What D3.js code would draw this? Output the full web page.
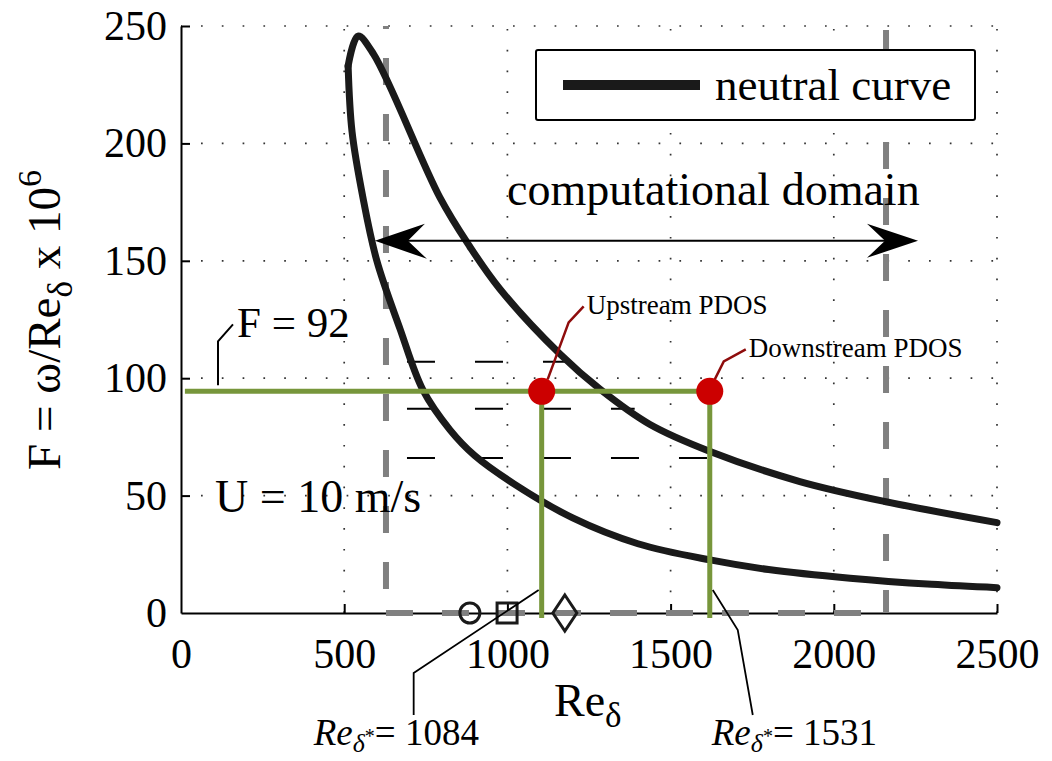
<!DOCTYPE html>
<html>
<head>
<meta charset="utf-8">
<script src="https://cdn.jsdelivr.net/npm/d3@7"></script>
<style>
body { margin: 0; background: #fff; }
svg text { font-family: "Liberation Serif", "Times New Roman", serif !important; fill: #000; }
</style>
</head>
<body>
<svg id="chart" width="1052" height="761"></svg>
<script>
//------------------------------------------------------------------------------
//Data
//------------------------------------------------------------------------------
var xTicks = [0, 500, 1000, 1500, 2000, 2500];
var yTicks = [0, 50, 100, 150, 200, 250];

// neutral curve, lower branch (Re, F)
var lowerRe = [512, 524, 558, 600, 671, 741, 824, 900, 1020, 1200, 1400, 1621, 1800, 2050, 2300, 2500];
var lowerF  = [233, 205, 176.5, 150, 121, 95, 78, 67, 55, 40.5, 29.5, 22.6, 18.5, 14.8, 12.2, 10.8];
// neutral curve, upper branch
var upperRe = [512, 542, 590, 793, 885, 977, 1161, 1284, 1437, 1621, 1896, 2160, 2500];
var upperF  = [233, 245.7, 238, 177, 156, 138, 110.3, 95.3, 80.3, 68.8, 56, 47.4, 38.5];

// computational domain limits
var domainRe = [628, 2160];
var arrowRe = [594, 2258];
var arrowF = 158.5;

// mesh lines (F levels and where they stop)
var meshF = [107, 87, 66];
var meshEndRe = [1190, 1390, 1680];

// forcing frequency and PDOS positions
var forcingF = 94.4;
var forcingLabel = "F = 92";
var pdosRe = [1105, 1620];
var pdosNames = ["Upstream PDOS", "Downstream PDOS"];
var pdosStarLabels = ["1084", "1531"];

// symbols along the wall
var markerRe = [885, 999, 1176];
var markerShape = ["circle", "square", "diamond"];

//------------------------------------------------------------------------------
//Setup
//------------------------------------------------------------------------------
var svg = d3.select("#chart");
var x = d3.scaleLinear().domain([0, 2500]).range([181, 997]);
var y = d3.scaleLinear().domain([0, 250]).range([613, 26]);

var green = "#77963b";
var grey = "#808080";
var curveCol = "#1a1a1a";
var darkRed = "#8e0c0c";

//------------------------------------------------------------------------------
//Grid
//------------------------------------------------------------------------------
var grid = svg.append("g");
xTicks.slice(1).forEach(function (t) {
  grid.append("line")
    .attr("x1", x(t)).attr("x2", x(t))
    .attr("y1", y(0)).attr("y2", y(250))
    .attr("stroke", "#333").attr("stroke-width", 1.7)
    .attr("stroke-dasharray", "1.7,19.1");
});
yTicks.slice(1).forEach(function (t) {
  grid.append("line")
    .attr("x1", x(0)).attr("x2", x(2500))
    .attr("y1", y(t)).attr("y2", y(t))
    .attr("stroke", "#333").attr("stroke-width", 1.7)
    .attr("stroke-dasharray", "1.7,19.1")
    .attr("stroke-dashoffset", -20);
});

//------------------------------------------------------------------------------
//Axes
//------------------------------------------------------------------------------
var xAxis = svg.append("g")
  .attr("transform", "translate(0," + y(0) + ")")
  .call(d3.axisBottom(x).tickValues(xTicks).tickFormat(d3.format("d"))
    .tickSizeInner(-9).tickSizeOuter(0).tickPadding(25));
var yAxis = svg.append("g")
  .attr("transform", "translate(" + x(0) + ",0)")
  .call(d3.axisLeft(y).tickValues(yTicks).tickFormat(d3.format("d"))
    .tickSizeInner(-9).tickSizeOuter(0).tickPadding(14));

[xAxis, yAxis].forEach(function (a) {
  a.attr("font-family", null).attr("font-size", null);
  a.select(".domain").attr("stroke", "#000").attr("stroke-width", 2);
  a.selectAll(".tick line").attr("stroke", "#000").attr("stroke-width", 2);
  a.selectAll(".tick text").style("font-size", "42px").attr("fill", "#000");
});
xAxis.selectAll(".tick").filter(function (d) { return d == 0; }).select("line").remove();
yAxis.selectAll(".tick").filter(function (d) { return d == 0; }).select("line").remove();

//------------------------------------------------------------------------------
//Computational domain (grey dashed)
//------------------------------------------------------------------------------
var dom = svg.append("g").attr("stroke", grey).attr("stroke-width", 6).attr("fill", "none");
dom.append("line")
  .attr("x1", x(domainRe[0])).attr("x2", x(domainRe[0]))
  .attr("y1", y(250)).attr("y2", y(0))
  .attr("stroke-dasharray", "27,29").attr("stroke-dashoffset", 24);
dom.append("line")
  .attr("x1", x(domainRe[1])).attr("x2", x(domainRe[1]))
  .attr("y1", y(250)).attr("y2", y(0))
  .attr("stroke-dasharray", "27,29").attr("stroke-dashoffset", 52);
dom.append("line")
  .attr("x1", x(domainRe[0])).attr("x2", x(domainRe[1]))
  .attr("y1", y(0)).attr("y2", y(0))
  .attr("stroke-dasharray", "27,29");

//------------------------------------------------------------------------------
//Mesh dashes
//------------------------------------------------------------------------------
meshF.forEach(function (f, i) {
  svg.append("line")
    .attr("x1", x(domainRe[0])).attr("x2", x(meshEndRe[i]))
    .attr("y1", y(f)).attr("y2", y(f))
    .attr("stroke", "#000").attr("stroke-width", 2)
    .attr("stroke-dasharray", "28,40").attr("stroke-dashoffset", 47);
});

//------------------------------------------------------------------------------
//Neutral curve
//------------------------------------------------------------------------------
var line = d3.line()
  .x(function (d) { return x(d[0]); })
  .y(function (d) { return y(d[1]); })
  .curve(d3.curveCatmullRom.alpha(0.5));

var lowerPts = lowerRe.map(function (r, i) { return [r, lowerF[i]]; });
var upperPts = upperRe.map(function (r, i) { return [r, upperF[i]]; });
[lowerPts, upperPts].forEach(function (pts) {
  svg.append("path")
    .attr("d", line(pts))
    .attr("fill", "none").attr("stroke", curveCol)
    .attr("stroke-width", 7).attr("stroke-linecap", "round").attr("stroke-linejoin", "round");
});

//------------------------------------------------------------------------------
//Wall symbols
//------------------------------------------------------------------------------
var marks = svg.append("g").attr("fill", "none").attr("stroke", "#1a1a1a").attr("stroke-width", 3);
markerRe.forEach(function (r, i) {
  var cx = x(r), cy = y(0);
  if (markerShape[i] == "circle") {
    marks.append("circle").attr("cx", cx).attr("cy", cy).attr("r", 10);
  } else if (markerShape[i] == "square") {
    marks.append("rect").attr("x", cx - 10).attr("y", cy - 10).attr("width", 20).attr("height", 20);
  } else {
    marks.append("path").attr("d", "M" + cx + "," + (cy - 18) + "L" + (cx + 12) + "," + cy +
      "L" + cx + "," + (cy + 18) + "L" + (cx - 12) + "," + cy + "Z");
  }
});

//------------------------------------------------------------------------------
//Forcing line and PDOS
//------------------------------------------------------------------------------
svg.append("line")
  .attr("x1", x(12)).attr("x2", x(pdosRe[1]))
  .attr("y1", y(forcingF)).attr("y2", y(forcingF))
  .attr("stroke", green).attr("stroke-width", 5);
pdosRe.forEach(function (r) {
  svg.append("line")
    .attr("x1", x(r)).attr("x2", x(r))
    .attr("y1", y(forcingF)).attr("y2", y(0) + 5)
    .attr("stroke", green).attr("stroke-width", 5);
});

// leaders to PDOS names
var leadUp = [[x(pdosRe[0]) + 6, y(forcingF) - 12], [x(pdosRe[0]) + 27, y(forcingF) - 69], [x(pdosRe[0]) + 42, y(forcingF) - 85]];
var leadDown = [[x(pdosRe[1]) + 1, y(forcingF) - 4], [x(pdosRe[1]) + 14, y(forcingF) - 30], [x(pdosRe[1]) + 36, y(forcingF) - 42]];
[leadUp, leadDown].forEach(function (p) {
  svg.append("path").attr("d", d3.line()(p))
    .attr("fill", "none").attr("stroke", darkRed).attr("stroke-width", 2.5);
});

pdosRe.forEach(function (r) {
  svg.append("circle").attr("cx", x(r)).attr("cy", y(forcingF)).attr("r", 13.5).attr("fill", "#cc0000");
});

svg.append("text").attr("x", leadUp[2][0] + 3).attr("y", leadUp[2][1] + 8)
  .style("font-size", "27px").text(pdosNames[0]);
svg.append("text").attr("x", leadDown[2][0] + 3).attr("y", leadDown[2][1] + 8)
  .style("font-size", "27px").text(pdosNames[1]);

//------------------------------------------------------------------------------
//Arrow for the computational domain
//------------------------------------------------------------------------------
var ay = y(arrowF), ax0 = x(arrowRe[0]), ax1 = x(arrowRe[1]);
svg.append("line").attr("x1", ax0 + 20).attr("x2", ax1 - 20).attr("y1", ay).attr("y2", ay)
  .attr("stroke", "#000").attr("stroke-width", 2);
svg.append("path")
  .attr("d", "M" + ax0 + "," + ay + "L" + (ax0 + 50) + "," + (ay - 17) + "L" + (ax0 + 33) + "," + ay +
    "L" + (ax0 + 52) + "," + (ay + 18) + "Z")
  .attr("fill", "#000");
svg.append("path")
  .attr("d", "M" + ax1 + "," + ay + "L" + (ax1 - 51) + "," + (ay - 17) + "L" + (ax1 - 33) + "," + ay +
    "L" + (ax1 - 51) + "," + (ay + 17) + "Z")
  .attr("fill", "#000");
svg.append("text").attr("x", 507).attr("y", 205).style("font-size", "46px").text("computational domain");

//------------------------------------------------------------------------------
//Annotations
//------------------------------------------------------------------------------
var fy = y(forcingF);
svg.append("path").attr("d", d3.line()([[218, fy - 6], [218, fy - 50], [233, fy - 67]]))
  .attr("fill", "none").attr("stroke", "#000").attr("stroke-width", 2);
svg.append("text").attr("x", 237).attr("y", 337).style("font-size", "43px").text(forcingLabel);
svg.append("text").attr("x", 215).attr("y", 512).style("font-size", "46px").text("U = 10 m/s");

// Re_delta* labels under the axis
var wy = y(0);
var leadL = [[x(pdosRe[0]) - 3, wy - 23], [x(pdosRe[0]) - 128, wy + 60], [x(pdosRe[0]) - 128, wy + 102]];
var leadR = [[x(pdosRe[1]) + 3, wy - 23], [x(pdosRe[1]) + 28, wy + 17], [x(pdosRe[1]) + 43, wy + 102]];
[leadL, leadR].forEach(function (p) {
  svg.append("path").attr("d", d3.line()(p))
    .attr("fill", "none").attr("stroke", "#000").attr("stroke-width", 1.8);
});
function reStar(x0, val) {
  var t = svg.append("text").attr("x", x0).attr("y", 745).style("font-size", "37px");
  t.append("tspan").style("font-style", "italic").text("Re");
  t.append("tspan").attr("dy", 7).style("font-size", "26px").style("font-style", "italic").text("δ");
  t.append("tspan").attr("dy", -9).style("font-size", "20px").text("*");
  t.append("tspan").attr("dy", 2).text("= " + val);
}
reStar(leadL[2][0] - 100, pdosStarLabels[0]);
reStar(leadR[2][0] - 41, pdosStarLabels[1]);

//------------------------------------------------------------------------------
//Axis labels
//------------------------------------------------------------------------------
var xl = svg.append("text").attr("x", 554).attr("y", 716).style("font-size", "46px");
xl.append("tspan").text("Re");
xl.append("tspan").attr("dy", 11).style("font-size", "35px").text("δ");

var yl = svg.append("text").attr("transform", "translate(60,320) rotate(-90)")
  .attr("text-anchor", "middle").style("font-size", "47px");
yl.append("tspan").text("F = ω/Re");
yl.append("tspan").attr("dy", 12).style("font-size", "35px").text("δ");
yl.append("tspan").attr("dy", -12).text(" x 10");
yl.append("tspan").attr("dy", -19).style("font-size", "34px").text("6");

//------------------------------------------------------------------------------
//Legend
//------------------------------------------------------------------------------
var leg = svg.append("g");
leg.append("rect").attr("x", 536).attr("y", 50).attr("width", 439).attr("height", 70).attr("rx", 2)
  .attr("fill", "#fff").attr("stroke", "#000").attr("stroke-width", 2);
leg.append("line").attr("x1", 563).attr("x2", 700).attr("y1", 85).attr("y2", 85)
  .attr("stroke", curveCol).attr("stroke-width", 10);
leg.append("text").attr("x", 715).attr("y", 100).style("font-size", "45px").text("neutral curve");
</script>
</body>
</html>
